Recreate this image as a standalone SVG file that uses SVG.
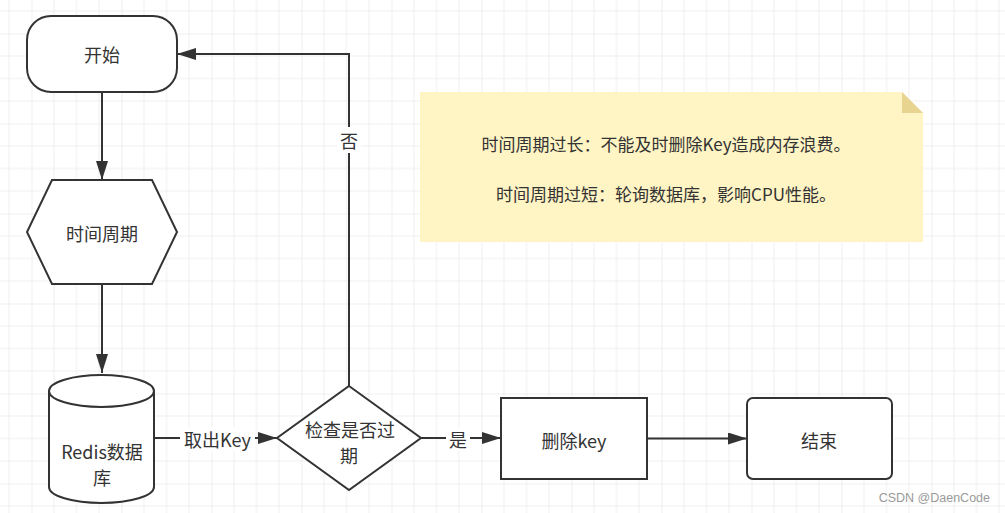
<svg xmlns="http://www.w3.org/2000/svg" width="1005" height="513" viewBox="0 0 1005 513">
<defs>
<pattern id="grid" patternUnits="userSpaceOnUse" x="31.5" y="33.5" width="90" height="90">
<path d="M22.5,0V90M45,0V90M67.5,0V90M0,22.5H90M0,45H90M0,67.5H90" stroke="#eeeeee" stroke-width="1" fill="none"/>
<path d="M0,0V90M0,0H90" stroke="#e0e0e0" stroke-width="1" fill="none"/>
</pattern>
<marker id="arr" markerUnits="userSpaceOnUse" markerWidth="20" markerHeight="12" refX="19" refY="6" orient="auto">
<path d="M0,0L19,6L0,12z" fill="#333"/>
</marker>
<style>
.shape{fill:#fff;stroke:#333;stroke-width:2}
.t{font-family:"Noto Sans CJK SC","Microsoft YaHei",sans-serif;font-size:18px;fill:#333;text-anchor:middle;dominant-baseline:central}
.n{font-size:17px}
.edge{fill:none;stroke:#333;stroke-width:2;marker-end:url(#arr)}
.lbl{fill:#fff}
</style>
</defs>
<rect width="1005" height="513" fill="#fff"/>
<rect width="1005" height="513" fill="url(#grid)"/>

<g id="connectors">
<path class="edge" d="M102,92V180"/>
<path class="edge" d="M102,284V373"/>
<path class="edge" d="M154,438H277"/>
<path class="edge" d="M421,438H501"/>
<path class="edge" d="M647,438.5H747"/>
<path class="edge" d="M349,386V54H177"/>
<rect class="lbl" x="180" y="427" width="75" height="24"/>
<text class="t" x="217.5" y="439">取出Key</text>
<rect class="lbl" x="446" y="427" width="24" height="24"/>
<text class="t" x="458" y="439">是</text>
<rect class="lbl" x="337" y="127" width="24" height="26"/>
<text class="t" x="349" y="140">否</text>
</g>

<g id="start">
<rect class="shape" x="27" y="16" width="150" height="76" rx="24" ry="24"/>
<text class="t" x="102" y="54">开始</text>
</g>

<g id="period">
<path class="shape" d="M52,180H152L177,232L152,284H52L27,232Z"/>
<text class="t" x="102" y="233">时间周期</text>
</g>

<g id="redis">
<path class="shape" d="M49,391A52.5,16 0 0 1 154,391V487A52.5,16 0 0 1 49,487Z"/>
<path class="shape" d="M49,391A52.5,16 0 0 0 154,391" fill="none"/>
<text class="t" x="102" y="451">Redis数据</text>
<text class="t" x="102" y="477">库</text>
</g>

<g id="check">
<path class="shape" d="M349,386L421,438L349,490L277,438Z"/>
<text class="t" x="350" y="428.5">检查是否过</text>
<text class="t" x="349" y="454.5">期</text>
</g>

<g id="delete">
<rect class="shape" x="501" y="398" width="146" height="81"/>
<text class="t" x="574" y="440">删除key</text>
</g>

<g id="end">
<rect class="shape" x="747" y="398" width="145" height="81" rx="6" ry="6"/>
<text class="t" x="819" y="440">结束</text>
</g>

<g id="note">
<path d="M420,92H902L923,113V242H420Z" fill="#fff4c3"/>
<path d="M902,92L923,113H902Z" fill="#e6d490"/>
<text class="t n" x="666" y="143">时间周期过长：不能及时删除Key造成内存浪费。</text>
<text class="t n" x="666" y="193">时间周期过短：轮询数据库，影响CPU性能。</text>
</g>

<text x="990" y="498" font-family="'Liberation Sans',Arial,sans-serif" font-size="12.5" fill="#9a9a9a" text-anchor="end" dominant-baseline="central">CSDN @DaenCode</text>
</svg>
